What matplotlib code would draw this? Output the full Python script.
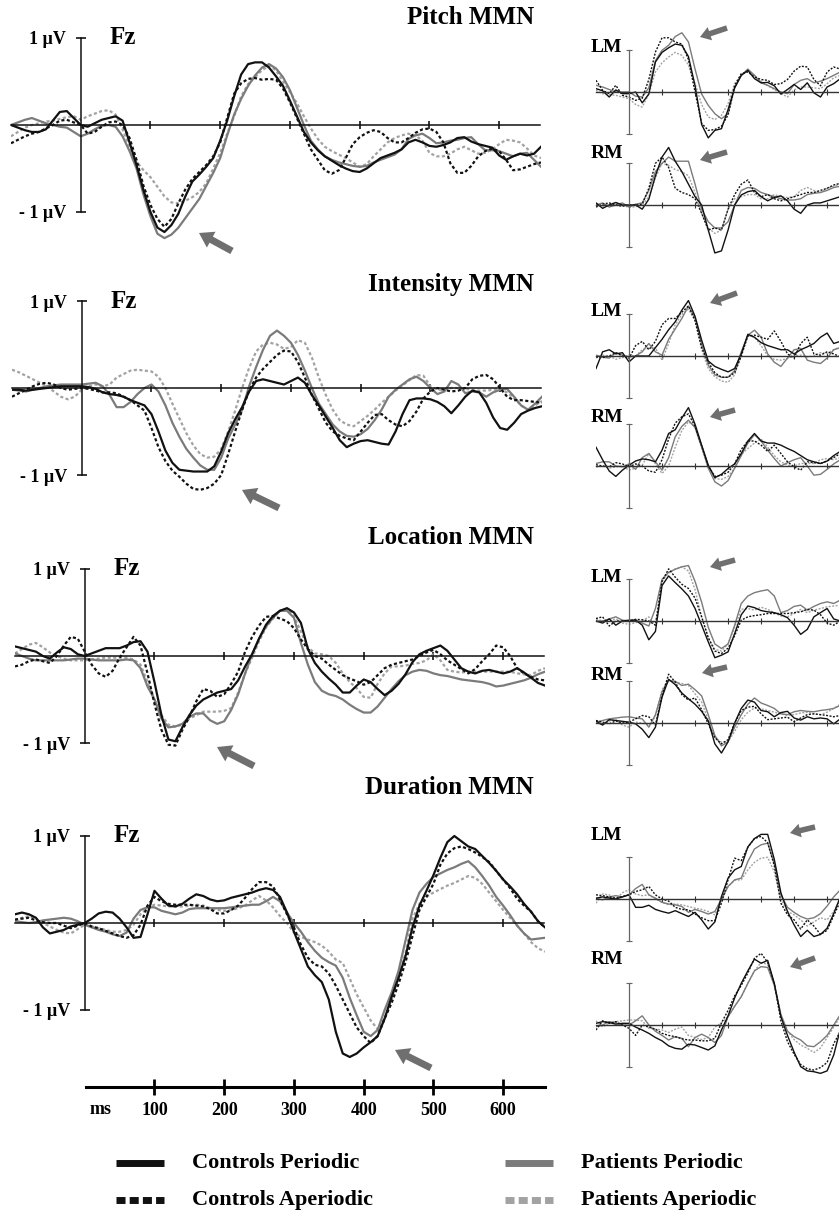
import numpy as np
import matplotlib
matplotlib.use("Agg")
import matplotlib.pyplot as plt
from matplotlib.patches import FancyArrowPatch

plt.rcParams['font.family'] = ['Liberation Serif', 'DejaVu Serif']
plt.rcParams['font.weight'] = 'bold'

W, H = 839, 1211

# time grids (ms)
t_fz = np.arange(-100, 670, 10)
t_side = np.arange(-100, 660, 20)

# ---------- Fz waveforms (uV), cp = controls periodic, ca = controls aperiodic,
# pp = patients periodic, pa = patients aperiodic
pitch_fz_cp = [0.0, -0.03, -0.06, -0.08, -0.08, -0.05, 0.05, 0.15, 0.16, 0.08,
               0.0, -0.02, 0.02, 0.06, 0.08, 0.10, 0.05, -0.2, -0.46, -0.75,
               -1.0, -1.18, -1.23, -1.15, -1.02, -0.82, -0.65, -0.57, -0.48, -0.38,
               -0.18, 0.05, 0.33, 0.58, 0.70, 0.72, 0.72, 0.66, 0.56, 0.45,
               0.28, 0.1, -0.08, -0.2, -0.29, -0.36, -0.41, -0.46, -0.5, -0.53,
               -0.54, -0.5, -0.44, -0.38, -0.35, -0.32, -0.28, -0.2, -0.17, -0.2,
               -0.24, -0.25, -0.23, -0.2, -0.15, -0.14, -0.19, -0.22, -0.24, -0.26,
               -0.35, -0.4, -0.36, -0.33, -0.35, -0.33, -0.25]
pitch_fz_ca = [-0.21, -0.17, -0.13, -0.1, -0.08, -0.04, 0.0, 0.05, 0.06, 0.03,
               0.0, -0.1, -0.08, -0.02, 0.03, 0.04, 0.0, -0.15, -0.4, -0.7,
               -0.92, -1.08, -1.17, -1.08, -0.9, -0.74, -0.62, -0.54, -0.46, -0.36,
               -0.2, 0.08, 0.36, 0.48, 0.53, 0.54, 0.52, 0.53, 0.52, 0.42,
               0.26, 0.08, -0.1, -0.28, -0.4, -0.52, -0.56, -0.52, -0.38, -0.22,
               -0.14, -0.09, -0.06, -0.08, -0.15, -0.2, -0.2, -0.15, -0.09, -0.05,
               -0.04, -0.08, -0.2, -0.44, -0.55, -0.55, -0.47, -0.36, -0.3, -0.27,
               -0.3, -0.4, -0.52, -0.51, -0.48, -0.45, -0.43]
pitch_fz_pp = [0.0, 0.03, 0.06, 0.08, 0.05, 0.02, 0.0, -0.02, -0.03, -0.08,
               -0.13, -0.1, -0.05, -0.01, 0.0, -0.02, -0.13, -0.3, -0.5, -0.8,
               -1.05, -1.25, -1.3, -1.26, -1.18, -1.07, -0.96, -0.85, -0.7, -0.55,
               -0.38, -0.12, 0.12, 0.3, 0.45, 0.57, 0.66, 0.7, 0.65, 0.55,
               0.4, 0.2, 0.0, -0.18, -0.28, -0.36, -0.4, -0.43, -0.45, -0.47,
               -0.48, -0.47, -0.43, -0.4, -0.37, -0.34, -0.28, -0.16, -0.12, -0.1,
               -0.15, -0.21, -0.2, -0.18, -0.17, -0.15, -0.14, -0.22, -0.29, -0.29,
               -0.3, -0.33, -0.36, -0.33, -0.32, -0.4, -0.48]
pitch_fz_pa = [-0.13, -0.08, -0.03, 0.0, 0.02, 0.04, 0.05, 0.07, 0.09, 0.1,
               0.06, 0.1, 0.13, 0.16, 0.17, 0.12, -0.05, -0.25, -0.42, -0.52,
               -0.6, -0.71, -0.82, -0.89, -0.9, -0.87, -0.83, -0.77, -0.67, -0.5,
               -0.32, -0.1, 0.1, 0.33, 0.47, 0.55, 0.63, 0.68, 0.63, 0.5,
               0.38, 0.25, 0.1, -0.04, -0.16, -0.25, -0.3, -0.34, -0.38, -0.43,
               -0.48, -0.45, -0.36, -0.28, -0.2, -0.15, -0.12, -0.1, -0.12, -0.18,
               -0.32, -0.36, -0.36, -0.33, -0.28, -0.25, -0.29, -0.33, -0.32, -0.28,
               -0.22, -0.17, -0.18, -0.2, -0.27, -0.35, -0.38]

intensity_fz_cp = [-0.02, -0.02, -0.03, -0.02, -0.01, 0.0, 0.01, 0.02, 0.02, 0.02,
                   0.02, 0.01, -0.01, -0.05, -0.07, -0.08, -0.1, -0.14, -0.17, -0.2,
                   -0.3, -0.5, -0.72, -0.86, -0.94, -0.95, -0.96, -0.96, -0.96, -0.9,
                   -0.73, -0.52, -0.36, -0.22, -0.04, 0.08, 0.1, 0.08, 0.06, 0.04,
                   0.08, 0.12, 0.06, -0.08, -0.2, -0.33, -0.46, -0.6, -0.68, -0.64,
                   -0.61, -0.6, -0.62, -0.64, -0.65, -0.5, -0.3, -0.14, -0.12, -0.12,
                   -0.13, -0.16, -0.21, -0.29, -0.2, -0.1, -0.03, -0.05, -0.17, -0.34,
                   -0.46, -0.48, -0.4, -0.3, -0.26, -0.23, -0.21]
intensity_fz_ca = [-0.1, -0.06, -0.02, 0.02, 0.05, 0.06, 0.04, 0.0, -0.02, -0.01,
                   0.0, -0.01, -0.03, -0.05, -0.05, -0.06, -0.1, -0.14, -0.2, -0.26,
                   -0.46, -0.68, -0.84, -0.95, -1.02, -1.1, -1.16, -1.17, -1.15, -1.1,
                   -1.0, -0.76, -0.5, -0.25, -0.03, 0.12, 0.22, 0.3, 0.38, 0.43,
                   0.42, 0.3, 0.12, -0.08, -0.24, -0.4, -0.5, -0.55, -0.58, -0.6,
                   -0.5, -0.4, -0.31, -0.3, -0.37, -0.42, -0.44, -0.38, -0.27, -0.12,
                   -0.04, 0.0, -0.02, -0.04, -0.03, 0.0, 0.1, 0.14, 0.15, 0.1,
                   0.0, -0.1, -0.14, -0.14, -0.15, -0.16, -0.17]
intensity_fz_pp = [-0.02, -0.03, -0.04, -0.02, 0.0, 0.02, 0.03, 0.04, 0.04, 0.04,
                   0.04, 0.05, 0.06, 0.02, -0.08, -0.22, -0.22, -0.16, -0.07, 0.0,
                   0.04, -0.04, -0.2, -0.4, -0.56, -0.7, -0.8, -0.89, -0.94, -0.94,
                   -0.8, -0.58, -0.42, -0.25, 0.02, 0.24, 0.44, 0.6, 0.66, 0.6,
                   0.52, 0.38, 0.2, 0.0, -0.18, -0.3, -0.42, -0.5, -0.55, -0.56,
                   -0.53, -0.47, -0.37, -0.25, -0.1, -0.02, 0.04, 0.1, 0.13, 0.08,
                   0.0, -0.07, -0.04, 0.08, 0.04, -0.06, -0.04, -0.05, -0.1, -0.05,
                   -0.02, -0.01, -0.1, -0.2, -0.25, -0.18, -0.1]
intensity_fz_pa = [0.21, 0.18, 0.14, 0.1, 0.06, 0.02, -0.04, -0.1, -0.13, -0.1,
                   -0.02, 0.02, 0.04, 0.02, 0.04, 0.12, 0.16, 0.2, 0.21, 0.2,
                   0.19, 0.13, 0.0, -0.18, -0.35, -0.52, -0.66, -0.76, -0.8, -0.79,
                   -0.7, -0.5, -0.26, 0.0, 0.23, 0.42, 0.5, 0.52, 0.5, 0.45,
                   0.47, 0.55, 0.52, 0.35, 0.12, -0.08, -0.25, -0.37, -0.42, -0.44,
                   -0.38, -0.32, -0.25, -0.17, -0.1, -0.03, 0.03, 0.09, 0.15, 0.14,
                   0.02, -0.02, -0.02, 0.0, 0.0, -0.01, -0.02, -0.03, -0.03, -0.02,
                   -0.02, -0.05, -0.12, -0.2, -0.25, -0.2, -0.15]

location_fz_cp = [0.11, 0.09, 0.07, 0.05, 0.0, -0.03, 0.04, 0.1, 0.08, 0.02,
                  0.0, 0.03, 0.06, 0.09, 0.09, 0.09, 0.12, 0.16, 0.17, 0.05,
                  -0.3, -0.68, -0.96, -0.98, -0.82, -0.68, -0.57, -0.5, -0.46, -0.42,
                  -0.4, -0.38, -0.28, -0.12, 0.02, 0.2, 0.36, 0.46, 0.52, 0.55,
                  0.5, 0.38, 0.08, -0.08, -0.18, -0.26, -0.33, -0.42, -0.42, -0.34,
                  -0.27, -0.3, -0.38, -0.45, -0.4, -0.32, -0.21, -0.07, 0.02, 0.06,
                  0.09, 0.12, 0.06, -0.04, -0.14, -0.18, -0.2, -0.17, -0.16, -0.18,
                  -0.2, -0.18, -0.14, -0.19, -0.25, -0.31, -0.34]
location_fz_ca = [-0.12, -0.1, -0.06, -0.04, -0.06, -0.08, 0.0, 0.12, 0.22, 0.2,
                  0.05, -0.1, -0.2, -0.24, -0.17, -0.02, 0.1, 0.22, 0.12, -0.2,
                  -0.55, -0.85, -1.02, -1.03, -0.85, -0.7, -0.52, -0.38, -0.4, -0.47,
                  -0.44, -0.32, -0.18, 0.05, 0.22, 0.35, 0.45, 0.46, 0.43, 0.4,
                  0.32, 0.19, 0.08, 0.0, -0.03, -0.1, -0.16, -0.22, -0.26, -0.29,
                  -0.33, -0.3, -0.22, -0.14, -0.1, -0.08, -0.06, -0.04, 0.0, 0.04,
                  0.07, 0.02, -0.05, -0.1, -0.15, -0.2, -0.15, -0.06, 0.02, 0.12,
                  0.1, 0.0, -0.14, -0.2, -0.24, -0.27, -0.28]
location_fz_pp = [0.03, 0.0, -0.03, -0.05, -0.05, -0.05, -0.05, -0.05, -0.04, -0.03,
                  -0.03, -0.04, -0.05, -0.05, -0.05, -0.05, -0.04, -0.05, -0.14, -0.35,
                  -0.5, -0.72, -0.82, -0.81, -0.78, -0.7, -0.66, -0.66, -0.74, -0.78,
                  -0.75, -0.62, -0.44, -0.2, 0.02, 0.2, 0.34, 0.44, 0.52, 0.52,
                  0.44, 0.15, -0.1, -0.3, -0.4, -0.44, -0.46, -0.5, -0.56, -0.61,
                  -0.65, -0.65, -0.58, -0.48, -0.38, -0.29, -0.22, -0.18, -0.16, -0.17,
                  -0.2, -0.22, -0.23, -0.25, -0.27, -0.28, -0.29, -0.3, -0.32, -0.35,
                  -0.34, -0.32, -0.3, -0.28, -0.25, -0.21, -0.18]
location_fz_pa = [0.03, 0.08, 0.13, 0.15, 0.1, 0.04, 0.0, -0.03, -0.05, -0.05,
                  -0.05, -0.04, -0.03, -0.02, -0.02, -0.02, -0.02, -0.04, -0.1, -0.3,
                  -0.5, -0.68, -0.79, -0.81, -0.79, -0.72, -0.68, -0.64, -0.64, -0.64,
                  -0.63, -0.6, -0.42, -0.2, -0.02, 0.17, 0.33, 0.43, 0.52, 0.54,
                  0.46, 0.28, 0.1, 0.03, 0.02, 0.0, -0.08, -0.2, -0.3, -0.37,
                  -0.47, -0.48, -0.32, -0.2, -0.12, -0.12, -0.11, -0.09, -0.08, -0.05,
                  0.02, -0.05, -0.16, -0.18, -0.19, -0.18, -0.18, -0.18, -0.18, -0.18,
                  -0.18, -0.18, -0.2, -0.21, -0.22, -0.17, -0.14]

duration_fz_cp = [0.1, 0.12, 0.1, 0.06, -0.05, -0.12, -0.1, -0.08, -0.04, -0.02,
                  0.0, 0.05, 0.11, 0.13, 0.12, 0.05, -0.05, -0.17, -0.16, 0.1,
                  0.37, 0.28, 0.2, 0.19, 0.22, 0.28, 0.33, 0.31, 0.27, 0.25,
                  0.26, 0.29, 0.31, 0.33, 0.35, 0.38, 0.4, 0.38, 0.3, 0.12,
                  -0.1, -0.3, -0.5, -0.6, -0.68, -0.88, -1.25, -1.5, -1.54, -1.5,
                  -1.43, -1.37, -1.3, -1.1, -0.85, -0.63, -0.38, -0.05, 0.2, 0.37,
                  0.55, 0.75, 0.93, 1.0, 0.94, 0.88, 0.85, 0.77, 0.69, 0.6,
                  0.5, 0.42, 0.33, 0.22, 0.13, 0.02, -0.05]
duration_fz_ca = [0.04, 0.05, 0.06, 0.03, 0.01, 0.0, 0.0, -0.03, -0.06, -0.03,
                  0.0, -0.04, -0.06, -0.09, -0.12, -0.15, -0.17, -0.14, -0.02, 0.2,
                  0.3, 0.25, 0.22, 0.21, 0.21, 0.21, 0.2, 0.19, 0.16, 0.11,
                  0.11, 0.15, 0.2, 0.29, 0.39, 0.47, 0.47, 0.42, 0.27, 0.1,
                  -0.05, -0.25, -0.4, -0.48, -0.5, -0.58, -0.72, -0.88, -1.04, -1.2,
                  -1.3, -1.38, -1.3, -1.1, -0.92, -0.7, -0.45, -0.15, 0.15, 0.3,
                  0.45, 0.67, 0.8, 0.86, 0.88, 0.85, 0.81, 0.76, 0.7, 0.6,
                  0.5, 0.4, 0.28, 0.2, 0.13, 0.02, -0.05]
duration_fz_pp = [0.02, 0.01, 0.0, 0.01, 0.03, 0.04, 0.05, 0.06, 0.05, 0.02,
                  -0.02, -0.05, -0.08, -0.1, -0.13, -0.15, -0.11, 0.05, 0.15, 0.18,
                  0.18, 0.14, 0.12, 0.1, 0.12, 0.16, 0.17, 0.17, 0.17, 0.17,
                  0.17, 0.18, 0.19, 0.2, 0.21, 0.21, 0.25, 0.3, 0.25, 0.12,
                  0.0, -0.1, -0.22, -0.32, -0.4, -0.45, -0.49, -0.63, -0.86, -1.06,
                  -1.25, -1.3, -1.23, -1.0, -0.8, -0.55, -0.2, 0.15, 0.35, 0.45,
                  0.53, 0.57, 0.61, 0.64, 0.68, 0.71, 0.64, 0.54, 0.43, 0.3,
                  0.2, 0.09, -0.03, -0.12, -0.19, -0.18, -0.17]
duration_fz_pa = [0.03, 0.06, 0.08, 0.05, 0.0, -0.04, -0.08, -0.11, -0.12, -0.07,
                  -0.02, -0.04, -0.06, -0.08, -0.1, -0.1, -0.08, -0.02, 0.1, 0.17,
                  0.21, 0.2, 0.19, 0.19, 0.19, 0.2, 0.21, 0.2, 0.17, 0.15,
                  0.14, 0.15, 0.17, 0.2, 0.26, 0.31, 0.26, 0.18, 0.08, 0.0,
                  -0.11, -0.16, -0.19, -0.22, -0.26, -0.33, -0.42, -0.46, -0.64, -0.82,
                  -0.97, -1.12, -1.22, -1.1, -0.88, -0.6, -0.35, 0.05, 0.22, 0.3,
                  0.35, 0.39, 0.43, 0.46, 0.5, 0.54, 0.52, 0.45, 0.35, 0.25,
                  0.15, 0.06, -0.03, -0.12, -0.22, -0.29, -0.33]

# ---------- mastoid waveforms (axis units: the vertical bar spans -1..1)
pitch_lm_cp = [0.08, 0.03, -0.12, 0.05, -0.04, -0.04, 0.0, -0.26, -0.05, 0.72,
               0.95, 1.06, 1.15, 1.12, 0.85, 0.15, -0.78, -1.1, -0.92, -0.88,
               -0.42, 0.1, 0.4, 0.52, 0.32, 0.22, 0.23, 0.15, -0.05, 0.06,
               0.18, 0.06, 0.22, -0.02, -0.12, 0.12, 0.2, 0.32]
pitch_lm_ca = [0.28, 0.04, -0.04, 0.16, -0.08, -0.12, -0.2, -0.15, 0.3, 0.96,
               1.3, 1.3, 1.2, 1.15, 0.78, 0.0, -0.75, -0.92, -0.9, -0.82,
               -0.55, 0.15, 0.44, 0.48, 0.36, 0.3, 0.28, 0.18, 0.2, 0.3,
               0.5, 0.62, 0.6, 0.3, 0.15, 0.48, 0.6, 0.55]
pitch_lm_pp = [0.16, 0.12, 0.06, 0.0, 0.0, 0.0, -0.1, -0.12, 0.1, 0.75,
               1.0, 1.12, 1.33, 1.42, 1.2, 0.55, -0.05, -0.32, -0.52, -0.64,
               -0.52, 0.1, 0.4, 0.55, 0.4, 0.22, 0.16, 0.08, 0.0, -0.04,
               0.18, 0.28, 0.32, 0.22, 0.26, 0.32, 0.4, 0.48]
pitch_lm_pa = [0.04, -0.04, -0.06, -0.08, -0.12, -0.16, -0.3, -0.36, -0.05, 0.48,
               0.7, 0.84, 0.95, 0.88, 0.65, 0.2, -0.3, -0.6, -0.66, -0.56,
               -0.28, 0.2, 0.4, 0.5, 0.4, 0.26, 0.15, 0.06, -0.04, -0.12,
               0.05, 0.12, 0.12, 0.1, 0.08, 0.2, 0.34, 0.4]
pitch_rm_cp = [0.05, -0.08, 0.0, 0.06, 0.0, 0.0, 0.0, -0.1, 0.14, 0.7,
               1.15, 1.38, 1.05, 0.8, 0.5, 0.2, 0.0, -0.6, -1.15, -1.1,
               -0.6, 0.0, 0.24, 0.32, 0.35, 0.2, 0.1, 0.18, 0.22, 0.1,
               -0.1, -0.2, 0.0, 0.05, 0.05, 0.1, 0.15, 0.2]
pitch_rm_ca = [-0.05, 0.02, 0.05, 0.0, -0.03, 0.0, 0.0, 0.02, 0.4, 1.0,
               1.15, 0.9, 0.4, 0.3, 0.25, 0.15, -0.2, -0.6, -0.55, -0.6,
               -0.1, 0.25, 0.5, 0.6, 0.3, 0.2, 0.25, 0.15, 0.1, 0.15,
               0.2, 0.25, 0.3, 0.3, 0.35, 0.4, 0.48, 0.52]
pitch_rm_pp = [0.0, 0.05, -0.05, 0.0, 0.05, -0.05, 0.02, 0.05, 0.35, 0.8,
               1.0, 1.15, 1.05, 1.05, 1.05, 0.5, -0.1, -0.4, -0.55, -0.55,
               -0.4, 0.0, 0.35, 0.42, 0.4, 0.3, 0.25, 0.2, 0.15, 0.12,
               0.12, 0.15, 0.25, 0.28, 0.3, 0.35, 0.42, 0.45]
pitch_rm_pa = [0.03, -0.03, 0.02, 0.05, 0.0, -0.06, -0.04, 0.0, 0.2, 0.65,
               1.0, 0.95, 0.85, 0.8, 0.7, 0.3, -0.2, -0.55, -0.68, -0.6,
               -0.1, 0.15, 0.2, 0.25, 0.25, 0.15, 0.15, 0.25, 0.2, 0.18,
               0.2, 0.35, 0.42, 0.35, 0.3, 0.4, 0.45, 0.5]

intensity_lm_cp = [-0.3, 0.1, 0.15, 0.05, 0.08, -0.14, 0.0, 0.0, 0.0, 0.2,
                   0.4, 0.63, 0.82, 1.1, 1.33, 0.95, 0.38, -0.12, -0.25, -0.32,
                   -0.38, -0.3, 0.05, 0.52, 0.45, 0.32, 0.25, 0.2, 0.15, 0.15,
                   0.05, 0.15, 0.22, 0.3, 0.45, 0.55, 0.3, 0.35]
intensity_lm_ca = [-0.02, -0.04, 0.0, 0.08, 0.0, -0.06, 0.25, 0.35, 0.15, 0.35,
                   0.75, 0.9, 0.9, 1.05, 1.2, 0.85, 0.2, -0.15, -0.4, -0.51,
                   -0.51, -0.4, 0.0, 0.48, 0.5, 0.45, 0.4, 0.6, 0.35, 0.05,
                   -0.05, 0.3, 0.45, 0.05, 0.02, 0.1, 0.05, -0.02]
intensity_lm_pp = [0.02, -0.03, -0.05, 0.08, 0.02, -0.02, 0.0, 0.1, 0.3, 0.1,
                   0.02, 0.4, 0.65, 0.9, 1.2, 0.92, 0.28, -0.22, -0.45, -0.51,
                   -0.51, -0.35, 0.1, 0.5, 0.62, 0.45, 0.05, -0.15, -0.25, -0.05,
                   0.15, 0.18, -0.1, -0.15, -0.18, -0.05, 0.15, 0.2]
intensity_lm_pa = [-0.05, 0.02, 0.0, -0.08, -0.04, 0.02, 0.0, 0.15, 0.2, 0.2,
                   -0.1, 0.3, 0.75, 1.0, 1.12, 0.85, 0.15, -0.3, -0.5, -0.6,
                   -0.63, -0.45, 0.02, 0.5, 0.45, 0.25, 0.0, -0.08, -0.1, -0.06,
                   0.0, 0.02, -0.02, 0.0, 0.08, 0.06, 0.15, 0.22]
intensity_rm_cp = [0.45, 0.15, -0.12, -0.25, -0.1, 0.02, 0.12, 0.17, 0.15, 0.1,
                   0.38, 0.78, 0.87, 1.15, 1.4, 1.0, 0.5, 0.02, -0.28, -0.2,
                   -0.06, 0.05, 0.3, 0.6, 0.78, 0.6, 0.55, 0.55, 0.5, 0.42,
                   0.35, 0.25, 0.15, 0.1, 0.06, 0.12, 0.25, 0.35]
intensity_rm_ca = [0.03, 0.0, -0.02, 0.08, 0.05, -0.02, 0.05, 0.0, -0.12, -0.15,
                   0.15, 0.65, 1.03, 1.18, 1.25, 0.95, 0.48, 0.0, -0.25, -0.22,
                   -0.15, 0.05, 0.4, 0.6, 0.6, 0.5, 0.35, 0.5, 0.3, 0.1,
                   -0.02, -0.1, 0.1, 0.08, 0.06, 0.12, 0.2, 0.3]
intensity_rm_pp = [0.06, 0.1, 0.1, 0.0, -0.02, 0.05, -0.08, 0.2, 0.3, 0.1,
                   -0.1, 0.2, 0.7, 0.95, 1.1, 0.92, 0.45, -0.05, -0.38, -0.48,
                   -0.35, -0.05, 0.25, 0.55, 0.75, 0.6, 0.38, 0.18, 0.0, 0.08,
                   0.15, 0.2, 0.0, -0.22, -0.2, -0.08, 0.05, 0.15]
intensity_rm_pa = [-0.02, 0.0, -0.05, -0.02, 0.0, -0.1, -0.05, 0.02, 0.3, 0.05,
                   -0.18, 0.0, 0.45, 0.85, 1.06, 0.95, 0.5, 0.0, -0.3, -0.32,
                   -0.25, -0.05, 0.28, 0.42, 0.55, 0.65, 0.45, 0.25, 0.1, 0.02,
                   0.0, 0.06, 0.06, 0.06, 0.15, 0.18, 0.15, 0.2]

location_lm_cp = [0.0, -0.05, 0.05, -0.1, 0.0, 0.02, 0.02, -0.1, -0.45, -0.25,
                  0.85, 1.08, 0.92, 0.77, 0.6, 0.3, -0.1, -0.5, -0.88, -0.82,
                  -0.74, -0.3, 0.15, 0.36, 0.32, 0.25, 0.22, 0.2, 0.15, 0.08,
                  -0.1, -0.32, -0.2, 0.1, 0.2, 0.3, 0.05, 0.0]
location_lm_ca = [0.06, 0.1, -0.12, 0.0, 0.0, 0.0, 0.04, 0.03, 0.0, -0.1,
                  0.95, 1.25, 1.05, 0.88, 0.78, 0.55, 0.1, -0.4, -0.72, -0.78,
                  -0.65, -0.35, 0.02, 0.1, 0.13, 0.15, 0.18, 0.18, 0.18, 0.18,
                  0.2, 0.22, 0.28, 0.26, 0.15, -0.05, -0.1, 0.0]
location_lm_pp = [0.0, 0.0, 0.05, 0.1, 0.02, 0.0, 0.03, -0.05, -0.12, 0.3,
                  1.0, 1.17, 1.24, 1.3, 1.33, 0.95, 0.45, -0.15, -0.55, -0.66,
                  -0.55, -0.1, 0.42, 0.6, 0.68, 0.72, 0.75, 0.6, 0.2, 0.25,
                  0.35, 0.38, 0.26, 0.35, 0.42, 0.46, 0.42, 0.5]
location_lm_pa = [0.05, 0.0, 0.02, 0.05, -0.05, -0.08, -0.04, 0.0, 0.1, -0.1,
                  0.95, 1.15, 1.25, 1.3, 1.2, 0.75, 0.1, -0.4, -0.68, -0.72,
                  -0.55, -0.15, 0.28, 0.3, 0.26, 0.33, 0.28, 0.2, 0.12, 0.1,
                  0.18, 0.28, 0.2, 0.26, 0.3, 0.34, 0.36, 0.38]
location_rm_cp = [0.05, -0.05, 0.08, 0.06, 0.04, 0.02, -0.02, -0.15, -0.35, -0.1,
                  0.62, 1.05, 0.92, 0.72, 0.58, 0.45, 0.28, 0.05, -0.5, -0.72,
                  -0.45, 0.0, 0.35, 0.55, 0.5, 0.3, 0.27, 0.15, 0.25, 0.28,
                  0.12, 0.07, 0.15, 0.1, 0.12, 0.1, -0.02, 0.1]
location_rm_ca = [0.06, 0.02, -0.02, 0.05, 0.0, 0.02, 0.1, 0.18, 0.15, -0.05,
                  0.65, 1.17, 0.98, 0.68, 0.55, 0.6, 0.32, -0.02, -0.35, -0.5,
                  -0.4, 0.0, 0.3, 0.38, 0.4, 0.22, 0.08, 0.1, 0.12, 0.14,
                  0.03, 0.12, 0.2, 0.22, 0.2, 0.18, 0.15, 0.18]
location_rm_pp = [0.02, 0.06, 0.1, 0.12, 0.14, 0.15, 0.12, 0.1, -0.1, 0.2,
                  0.75, 1.02, 1.0, 0.9, 0.93, 0.8, 0.65, 0.2, -0.3, -0.55,
                  -0.45, -0.1, 0.2, 0.45, 0.6, 0.48, 0.42, 0.35, 0.22, 0.2,
                  0.27, 0.3, 0.28, 0.27, 0.3, 0.32, 0.35, 0.42]
location_rm_pa = [0.0, -0.04, 0.05, 0.08, -0.05, -0.1, 0.02, 0.0, -0.05, 0.15,
                  0.8, 1.02, 0.97, 0.95, 0.9, 0.7, 0.5, 0.08, -0.35, -0.46,
                  -0.45, -0.2, 0.08, 0.26, 0.36, 0.34, 0.3, 0.26, 0.22, 0.18,
                  0.2, 0.24, 0.26, 0.22, 0.2, 0.26, 0.35, 0.45]

duration_lm_cp = [0.02, 0.05, 0.02, 0.0, 0.05, 0.1, -0.2, -0.2, -0.15, -0.25,
                  -0.3, -0.34, -0.28, -0.35, -0.42, -0.32, -0.5, -0.72, -0.55, 0.06,
                  0.5, 0.7, 0.78, 1.25, 1.45, 1.55, 1.55, 0.95, 0.15, -0.3,
                  -0.62, -0.9, -0.75, -0.9, -0.85, -0.7, -0.35, 0.05]
duration_lm_ca = [0.1, 0.08, 0.05, 0.02, 0.06, 0.1, 0.18, 0.22, 0.3, 0.1,
                  0.0, -0.05, -0.2, -0.25, -0.26, -0.36, -0.45, -0.52, -0.52, -0.1,
                  0.46, 0.98, 0.92, 1.24, 1.45, 1.5, 1.35, 0.8, -0.1, -0.38,
                  -0.5, -0.72, -0.5, -0.65, -0.85, -0.75, -0.4, -0.05]
duration_lm_pp = [0.02, -0.02, 0.05, 0.08, 0.05, 0.1, 0.25, 0.35, 0.1, 0.02,
                  -0.08, -0.12, -0.14, -0.18, -0.32, -0.25, -0.3, -0.36, -0.3, 0.0,
                  0.3, 0.46, 0.5, 0.9, 1.2, 1.3, 1.34, 0.85, 0.1, -0.2,
                  -0.32, -0.42, -0.48, -0.45, -0.35, -0.17, 0.05, 0.22]
duration_lm_pa = [-0.1, 0.12, 0.1, 0.0, 0.15, 0.22, 0.12, 0.08, 0.1, 0.0,
                  -0.08, -0.14, -0.12, -0.14, -0.18, -0.22, -0.25, -0.3, -0.38, -0.05,
                  0.3, 0.45, 0.46, 0.7, 0.88, 0.98, 1.0, 0.65, 0.0, -0.3,
                  -0.38, -0.5, -0.65, -0.55, -0.45, -0.5, -0.3, 0.0]
duration_rm_cp = [0.04, 0.08, 0.06, 0.02, 0.04, 0.04, -0.05, -0.12, -0.2, -0.3,
                  -0.38, -0.5, -0.56, -0.58, -0.46, -0.48, -0.54, -0.6, -0.5, -0.12,
                  0.22, 0.65, 1.0, 1.3, 1.58, 1.48, 1.55, 1.0, 0.2, -0.25,
                  -0.65, -1.0, -1.1, -1.12, -1.16, -1.1, -0.72, -0.1]
duration_rm_ca = [-0.12, 0.1, 0.04, 0.08, 0.0, -0.08, -0.25, 0.0, -0.05, -0.1,
                  -0.2, -0.25, -0.28, -0.33, -0.36, -0.36, -0.38, -0.38, -0.32, 0.05,
                  0.35, 0.7, 0.95, 1.25, 1.6, 1.72, 1.5, 1.0, 0.1, -0.4,
                  -0.7, -0.95, -1.05, -1.08, -1.02, -0.9, -0.45, -0.15]
duration_rm_pp = [-0.04, 0.0, 0.08, 0.05, 0.0, 0.0, 0.1, 0.22, 0.0, -0.15,
                  -0.25, -0.36, -0.28, -0.32, -0.52, -0.3, -0.22, -0.3, -0.42, -0.25,
                  0.2, 0.45, 0.68, 1.0, 1.3, 1.4, 1.38, 0.95, 0.25, -0.15,
                  -0.28, -0.36, -0.5, -0.52, -0.4, -0.25, 0.0, 0.25]
duration_rm_pa = [0.1, -0.05, 0.05, 0.08, 0.1, 0.12, 0.12, 0.1, -0.08, -0.1,
                  -0.12, -0.18, -0.1, -0.05, -0.25, -0.3, -0.35, -0.3, -0.05, 0.05,
                  0.2, 0.45, 0.68, 1.0, 1.3, 1.5, 1.45, 1.0, 0.25, -0.15,
                  -0.35, -0.48, -0.56, -0.66, -0.55, -0.3, -0.05, 0.2]

titles = ['Pitch MMN', 'Intensity MMN', 'Location MMN', 'Duration MMN']
legend_labels = ['Controls Periodic', 'Controls Aperiodic',
                 'Patients Periodic', 'Patients Aperiodic']
time_ticks = [100, 200, 300, 400, 500, 600]

# ---------- layout (pixels from the top-left corner)
UV = 87.0          # px per uV in the Fz panels
SU = 41.7          # px per unit in the mastoid panels
fz_base = [125, 388, 656, 923]
fz_left = [11, 12, 15, 15]
title_y = [18, 285, 538, 788]
side_base = [(92, 205), (356, 466), (621, 723), (899, 1025)]
side_lab = [(47, 153), (312, 418), (578, 675), (835, 960)]
main_arrows = [((232, 251), (199, 233)), ((279, 508), (242, 490)),
               ((254, 766), (217, 747)), ((431, 1068), (395, 1050))]
side_arrows = [((727, 28), (700, 37)), ((727, 152), (700, 160)),
               ((737, 293), (710, 303)), ((735, 410), (710, 417)),
               ((735, 560), (710, 567)), ((727, 667), (702, 673)),
               ((815, 827), (790, 833)), ((815, 958), (790, 967))]

BLACK, GREY, LGREY = '#111111', '#7b7b7b', '#a2a2a2'
DOT = (0, (1.4, 1.1))
styles = [dict(color=BLACK, ls='-'), dict(color=BLACK, ls=DOT),
          dict(color=GREY, ls='-'), dict(color=LGREY, ls=DOT)]

fig = plt.figure(figsize=(W / 100, H / 100), dpi=100)


def px_box(x0, x1, y0, y1):
    return [x0 / W, 1 - y1 / H, (x1 - x0) / W, (y1 - y0) / H]


def plot_curves(ax, t, curves, lw):
    for i in [3, 2, 1, 0]:
        ax.plot(t, curves[i], lw=lw, color=styles[i]['color'],
                linestyle=styles[i]['ls'], solid_joinstyle='round')


def fz_panel(base, left, title, ty, curves):
    top, bot = 1.35, -1.85
    ax = fig.add_axes(px_box(left, left + 530, base - top * UV, base - bot * UV))
    ax.set_xlim(-100, 660)
    ax.set_ylim(bot, top)
    ax.patch.set_visible(False)
    for s in ('top', 'right'):
        ax.spines[s].set_visible(False)
    ax.spines['left'].set_position(('data', 0))
    ax.spines['bottom'].set_position(('data', 0))
    ax.spines['left'].set_bounds(-1, 1)
    ax.spines['bottom'].set_bounds(-100, 658)
    for s in ('left', 'bottom'):
        ax.spines[s].set_linewidth(1.1)
        ax.spines[s].set_color(BLACK)
    ax.set_xticks(time_ticks)
    ax.set_xticklabels([])
    ax.tick_params(axis='x', direction='inout', length=6, width=1.1)
    ax.set_yticks([-1, 1])
    ax.set_yticklabels(['- 1 µV', '1 µV'], fontsize=13, fontweight='bold')
    ax.tick_params(axis='y', direction='inout', length=7, width=1.1, pad=7)
    plot_curves(ax, t_fz, curves, 1.6)
    ax.text(42, 1.0, 'Fz', fontsize=18, fontweight='bold', va='center', ha='left')
    fig.text(534 / W, 1 - ty / H, title, fontsize=18, fontweight='bold',
             ha='right', va='center')


def side_panel(base, label, ly, curves):
    lim = 2.0
    ax = fig.add_axes(px_box(596, 839, base - lim * SU, base + lim * SU))
    ax.set_xlim(-100, 636)
    ax.set_ylim(-lim, lim)
    ax.patch.set_visible(False)
    for s in ('top', 'right'):
        ax.spines[s].set_visible(False)
    ax.spines['left'].set_position(('data', 0))
    ax.spines['bottom'].set_position(('data', 0))
    ax.spines['left'].set_bounds(-1, 1)
    ax.spines['left'].set_color('#666666')
    ax.spines['bottom'].set_color('#333333')
    ax.spines['left'].set_linewidth(0.9)
    ax.spines['bottom'].set_linewidth(1.0)
    ax.set_xticks(time_ticks)
    ax.set_xticklabels([])
    ax.tick_params(axis='x', direction='inout', length=4, width=0.8, colors='#333333')
    ax.set_yticks([-1, 1])
    ax.set_yticklabels([])
    ax.tick_params(axis='y', direction='inout', length=4, width=0.8, colors='#666666')
    plot_curves(ax, t_side, curves, 1.0)
    fig.text(591 / W, 1 - ly / H, label, fontsize=14, fontweight='bold',
             ha='left', va='center')


fz_sets = [
    [pitch_fz_cp, pitch_fz_ca, pitch_fz_pp, pitch_fz_pa],
    [intensity_fz_cp, intensity_fz_ca, intensity_fz_pp, intensity_fz_pa],
    [location_fz_cp, location_fz_ca, location_fz_pp, location_fz_pa],
    [duration_fz_cp, duration_fz_ca, duration_fz_pp, duration_fz_pa],
]
lm_sets = [
    [pitch_lm_cp, pitch_lm_ca, pitch_lm_pp, pitch_lm_pa],
    [intensity_lm_cp, intensity_lm_ca, intensity_lm_pp, intensity_lm_pa],
    [location_lm_cp, location_lm_ca, location_lm_pp, location_lm_pa],
    [duration_lm_cp, duration_lm_ca, duration_lm_pp, duration_lm_pa],
]
rm_sets = [
    [pitch_rm_cp, pitch_rm_ca, pitch_rm_pp, pitch_rm_pa],
    [intensity_rm_cp, intensity_rm_ca, intensity_rm_pp, intensity_rm_pa],
    [location_rm_cp, location_rm_ca, location_rm_pp, location_rm_pa],
    [duration_rm_cp, duration_rm_ca, duration_rm_pp, duration_rm_pa],
]

for r in range(4):
    fz_panel(fz_base[r], fz_left[r], titles[r], title_y[r], fz_sets[r])
    side_panel(side_base[r][0], 'LM', side_lab[r][0], lm_sets[r])
    side_panel(side_base[r][1], 'RM', side_lab[r][1], rm_sets[r])

# time axis under the Fz column
axt = fig.add_axes(px_box(15, 545, 1060, 1087))
axt.set_xlim(-100, 660)
axt.set_ylim(0, 1)
axt.patch.set_visible(False)
for s in ('top', 'right', 'left'):
    axt.spines[s].set_visible(False)
axt.spines['bottom'].set_bounds(2, 660)
axt.spines['bottom'].set_linewidth(2.2)
axt.set_yticks([])
axt.set_xticks(time_ticks)
axt.set_xticklabels([str(v) for v in time_ticks], fontsize=13, fontweight='bold')
axt.tick_params(axis='x', direction='inout', length=11, width=2.0, pad=5)
axt.text(22, -0.85, 'ms', transform=axt.get_xaxis_transform(), fontsize=13,
         fontweight='bold', ha='center', va='center')

# overlay for arrows and legend
ov = fig.add_axes([0, 0, 1, 1])
ov.set_xlim(0, W)
ov.set_ylim(H, 0)
ov.axis('off')
ov.patch.set_visible(False)

for tail, head in main_arrows:
    ov.add_patch(FancyArrowPatch(tail, head, mutation_scale=1, color='#6f6f6f',
                                 shrinkA=0, shrinkB=0, lw=0,
                                 arrowstyle='simple,head_length=10,head_width=13,tail_width=5'))
for tail, head in side_arrows:
    ov.add_patch(FancyArrowPatch(tail, head, mutation_scale=1, color='#6f6f6f',
                                 shrinkA=0, shrinkB=0, lw=0,
                                 arrowstyle='simple,head_length=7.5,head_width=10,tail_width=4'))

leg_pos = [(116, 1163), (116, 1200), (505, 1163), (505, 1200)]
for i, (lx, ly) in enumerate(leg_pos):
    ls = '-' if styles[i]['ls'] == '-' else (0, (1.3, 0.6))
    ov.plot([lx, lx + 48], [ly, ly], color=styles[i]['color'], lw=5,
            linestyle=ls, solid_capstyle='butt', dash_capstyle='butt')
    ov.text(lx + 76, ly, legend_labels[i], fontsize=16, fontweight='bold',
            ha='left', va='center')

fig.savefig('out.png', dpi=100)
